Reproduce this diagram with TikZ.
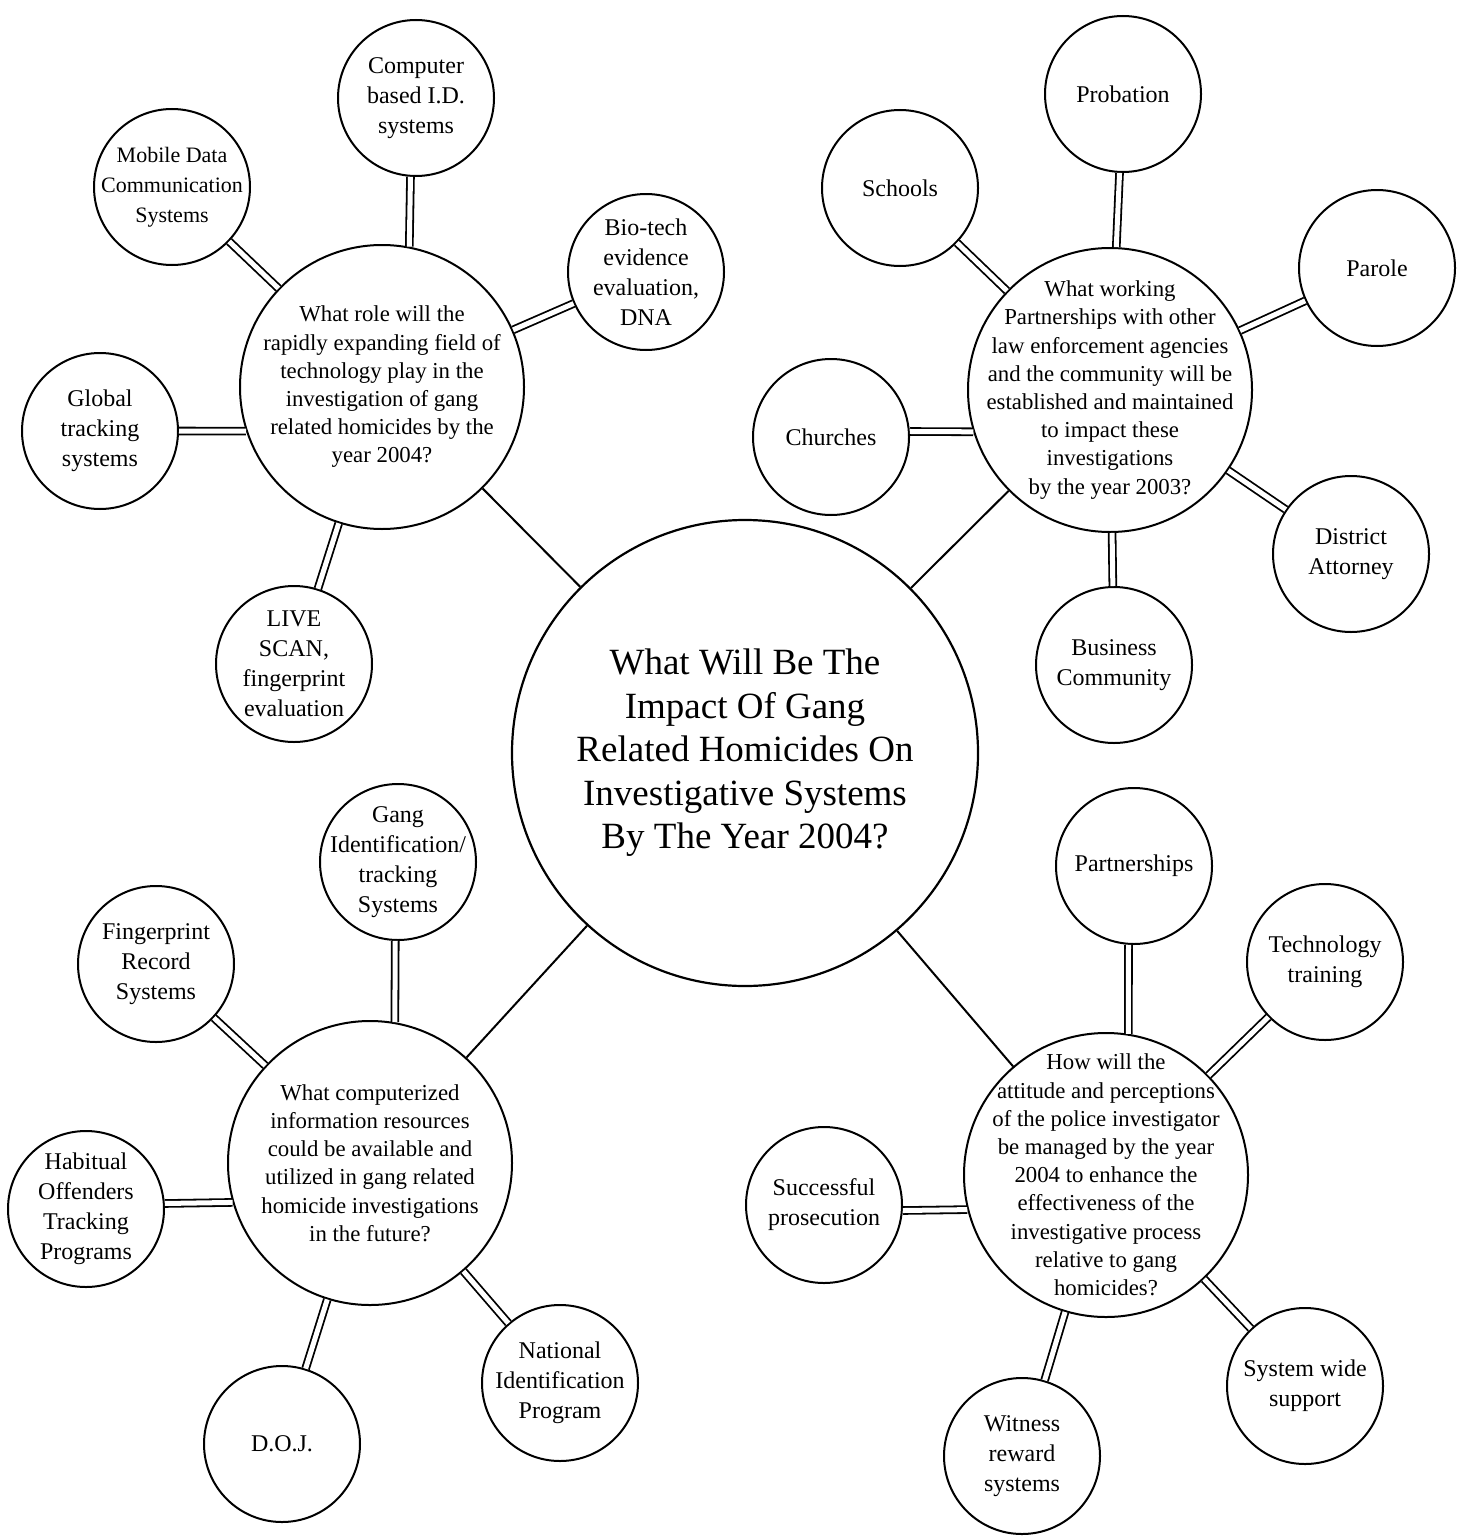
\documentclass[tikz,border=0pt]{standalone}
\usepackage{fontspec}
\setmainfont{Liberation Serif}
\begin{document}
\begin{tikzpicture}[x=1pt,y=-1pt,line join=round,
  bubble/.style={circle,draw,line width=2pt,inner sep=0pt,minimum size=156},
  hub/.style={bubble,minimum size=284},
  core/.style={bubble,line width=2.2pt,minimum size=466},
  btext/.style={align=center,font=\fontsize{24}{30}\selectfont},
  htext/.style={align=center,font=\fontsize{22.8}{28.2}\selectfont},
  ctext/.style={align=center,font=\fontsize{37}{43.5}\selectfont},
  single/.style={line width=2pt},
  twin/.style={line width=1.8pt,double,double distance=5pt,line cap=butt}]
\useasboundingbox (0,0) rectangle (1462,1536);

\node[core,label={[ctext]center:{What Will Be The\\Impact Of Gang\\Related Homicides On\\Investigative Systems\\By The Year 2004?}}] (impact) at (745,753) {};

% four questions
\node[hub,label={[htext]center:{What role will the\\rapidly expanding field of\\technology play in the\\investigation of gang\\related homicides by the\\year 2004?}}] (tech) at (382,387) {};
\node[hub,label={[htext]center:{What working\\Partnerships with other\\law enforcement agencies\\and the community will be\\established and maintained\\to impact these\\investigations\\by the year 2003?}}] (partner) at (1110,390) {};
\node[hub,label={[htext]center:{What computerized\\information resources\\could be available and\\utilized in gang related\\homicide investigations\\in the future?}}] (info) at (370,1163) {};
\node[hub,label={[htext]center:{How will the\\attitude and perceptions\\of the police investigator\\be managed by the year\\2004 to enhance the\\effectiveness of the\\investigative process\\relative to gang\\homicides?}}] (attitude) at (1106,1175) {};

% technology
\node[bubble,label={[btext]center:{Computer\\based I.D.\\systems}}] (comp) at (416,98) {};
\node[bubble,label={[btext,font=\fontsize{22}{30}\selectfont]center:{Mobile Data\\Communication\\Systems}}] (mobile) at (172,187) {};
\node[bubble,label={[btext]center:{Bio-tech\\evidence\\evaluation,\\DNA}}] (biotech) at (646,272) {};
\node[bubble,label={[btext]center:{Global\\tracking\\systems}}] (global) at (100,431) {};
\node[bubble,label={[btext]center:{LIVE\\SCAN,\\fingerprint\\evaluation}}] (livescan) at (294,664) {};

% partnerships
\node[bubble,label={[btext]center:{Probation}}] (probation) at (1123,94) {};
\node[bubble,label={[btext]center:{Schools}}] (schools) at (900,188) {};
\node[bubble,label={[btext]center:{Parole}}] (parole) at (1377,268) {};
\node[bubble,label={[btext]center:{Churches}}] (churches) at (831,437) {};
\node[bubble,label={[btext]center:{District\\Attorney}}] (attorney) at (1351,554) {};
\node[bubble,label={[btext]center:{Business\\Community}}] (business) at (1114,665) {};

% information resources
\node[bubble,label={[btext]center:{Gang\\Identification/\\tracking\\Systems}}] (gangid) at (398,862) {};
\node[bubble,label={[btext]center:{Fingerprint\\Record\\Systems}}] (fingerprint) at (156,964) {};
\node[bubble,label={[btext]center:{Habitual\\Offenders\\Tracking\\Programs}}] (habitual) at (86,1209) {};
\node[bubble,label={[btext]center:{D.O.J.}}] (doj) at (282,1444) {};
\node[bubble,label={[btext]center:{National\\Identification\\Program}}] (national) at (560,1383) {};

% attitude
\node[bubble,label={[btext]center:{Partnerships}}] (partnerships) at (1134,866) {};
\node[bubble,label={[btext]center:{Technology\\training}}] (techtrain) at (1325,962) {};
\node[bubble,label={[btext]center:{Successful\\prosecution}}] (success) at (824,1205) {};
\node[bubble,label={[btext]center:{System wide\\support}}] (syswide) at (1305,1386) {};
\node[bubble,label={[btext]center:{Witness\\reward\\systems}}] (witness) at (1022,1456) {};

\draw[single] (impact) -- (tech);
\draw[single] (impact) -- (partner);
\draw[single] (impact) -- (info);
\draw[single] (impact) -- (attitude);

\draw[twin] (comp.-94) -- (tech.79);
\draw[twin] (mobile) -- (tech);
\draw[twin] (biotech) -- (tech);
\draw[twin] (global.0) -- (tech.198);
\draw[twin] (livescan) -- (tech);

\draw[twin] (probation) -- (partner);
\draw[twin] (schools) -- (partner);
\draw[twin] (parole) -- (partner);
\draw[twin] (churches.4) -- (partner.197);
\draw[twin] (attorney) -- (partner);
\draw[twin] (business) -- (partner);

\draw[twin] (gangid.-92) -- (info.80);
\draw[twin] (fingerprint) -- (info);
\draw[twin] (habitual.4) -- (info.196);
\draw[twin] (doj) -- (info);
\draw[twin] (national) -- (info);

\draw[twin] (partnerships.-94) -- (attitude.81);
\draw[twin] (techtrain) -- (attitude);
\draw[twin] (success.-4) -- (attitude.194);
\draw[twin] (syswide) -- (attitude);
\draw[twin] (witness) -- (attitude);
\end{tikzpicture}
\end{document}
